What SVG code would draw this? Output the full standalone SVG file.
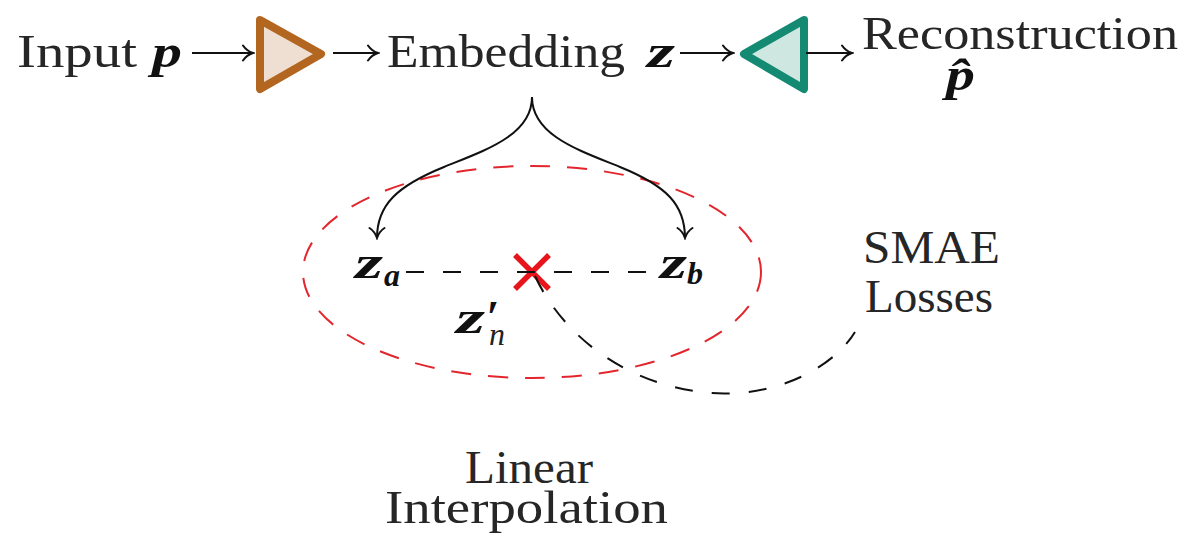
<svg xmlns="http://www.w3.org/2000/svg" width="1188" height="541" viewBox="0 0 1188 541">
<style>
.t{font-family:"Liberation Serif","Times New Roman",serif;font-size:46px;fill:#262626}
.v{font-family:"Liberation Serif","Times New Roman",serif;font-size:46px;font-weight:bold;font-style:italic;fill:#111}
.s{font-family:"Liberation Serif","Times New Roman",serif;font-size:32px;font-weight:bold;font-style:italic;fill:#111}
.si{font-family:"Liberation Serif","Times New Roman",serif;font-size:32px;font-weight:normal;font-style:italic;fill:#222}
.ln{fill:none;stroke:#111;stroke-width:2}
.dash{fill:none;stroke:#111;stroke-width:2;stroke-dasharray:18 19}
</style>
<defs>
<marker id="to" viewBox="-12 -9 14 18" refX="0" refY="0" markerWidth="14" markerHeight="18" markerUnits="userSpaceOnUse" orient="auto">
<path d="M-10,-7.5 C-7,-3 -3,-1 0,0 C-3,1 -7,3 -10,7.5" fill="none" stroke="#111" stroke-width="2" stroke-linecap="round"/>
</marker>
</defs>

<g id="input">
<text class="t" x="17" y="67" textLength="120" lengthAdjust="spacingAndGlyphs">Input</text>
<text class="v" x="152" y="67" textLength="30" lengthAdjust="spacingAndGlyphs">p</text>
</g>

<g id="encoder">
<path d="M260,20 L321,54 L260,89 Z" fill="#EFDFD2" stroke="#B2661F" stroke-width="8" stroke-linejoin="round"/>
</g>

<g id="embedding">
<text class="t" x="387" y="67" textLength="238" lengthAdjust="spacingAndGlyphs">Embedding</text>
<text class="v" x="647" y="67" textLength="28" lengthAdjust="spacingAndGlyphs">z</text>
</g>

<g id="decoder">
<path d="M804,20 L744,54 L804,89 Z" fill="#CFE7E1" stroke="#148A73" stroke-width="8" stroke-linejoin="round"/>
</g>

<g id="reconstruction">
<text class="t" x="862" y="49"><tspan textLength="316" lengthAdjust="spacingAndGlyphs">Reconstruction</tspan><tspan class="v" x="946" y="90" textLength="29" lengthAdjust="spacingAndGlyphs">p̂</tspan></text>
</g>

<g id="latent-space">
<ellipse cx="532" cy="272" rx="229" ry="106" fill="none" stroke="#E3262E" stroke-width="2" stroke-dasharray="20 17"/>
</g>

<g id="za">
<text class="v" x="355" y="278"><tspan textLength="28" lengthAdjust="spacingAndGlyphs">z</tspan><tspan class="s" x="384" y="286">a</tspan></text>
</g>

<g id="zb">
<text class="v" x="660" y="278"><tspan textLength="27" lengthAdjust="spacingAndGlyphs">z</tspan><tspan class="s" x="687" y="284">b</tspan></text>
</g>

<g id="zn">
<path d="M515,255 L549,289 M549,255 L515,289" stroke="#E8141C" stroke-width="5.5" fill="none"/>
<text class="v" x="456" y="333"><tspan textLength="29" lengthAdjust="spacingAndGlyphs">z</tspan><tspan x="486" y="333">′</tspan><tspan class="si" x="489" y="345">n</tspan></text>
</g>

<g id="smae-losses">
<text class="t" x="863" y="263"><tspan textLength="137" lengthAdjust="spacingAndGlyphs">SMAE</tspan><tspan x="865" y="312" textLength="128" lengthAdjust="spacingAndGlyphs">Losses</tspan></text>
</g>

<g id="linear-interpolation">
<text class="t" x="465" y="483"><tspan textLength="128" lengthAdjust="spacingAndGlyphs">Linear</tspan><tspan x="385" y="523" textLength="283" lengthAdjust="spacingAndGlyphs">Interpolation</tspan></text>
</g>

<g id="connectors">
<line class="ln" x1="192" y1="53" x2="253" y2="53" marker-end="url(#to)"/>
<line class="ln" x1="333" y1="53" x2="378" y2="53" marker-end="url(#to)"/>
<line class="ln" x1="680" y1="53" x2="733" y2="53" marker-end="url(#to)"/>
<line class="ln" x1="806" y1="53" x2="852" y2="53" marker-end="url(#to)"/>
<path class="ln" d="M532,97 C532,135 486,150 444,167 C397,186 377,205 377,238" marker-end="url(#to)"/>
<path class="ln" d="M532,97 C532,135 578,150 620,167 C667,186 685,205 685,238" marker-end="url(#to)"/>
<line class="dash" x1="406" y1="272" x2="660" y2="272"/>
<path class="dash" d="M535,276 C560,330 620,385 710,393 C780,398 835,365 855,332"/>
</g>
</svg>
